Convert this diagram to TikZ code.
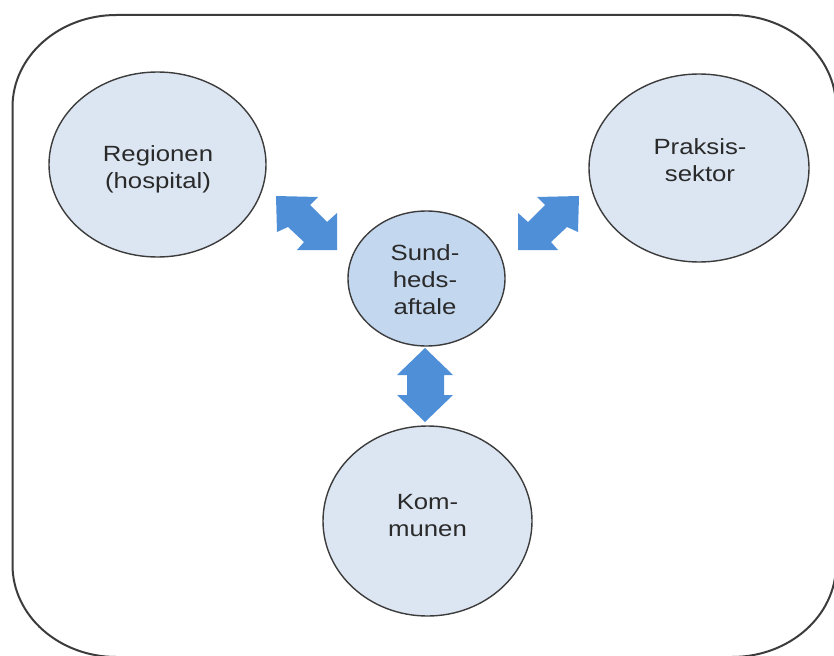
\documentclass[tikz,border=0pt]{standalone}
\usepackage{fontspec}
\setmainfont[FakeStretch=1.17]{Liberation Sans}
\usetikzlibrary{shapes.geometric}
\definecolor{outl}{HTML}{3C3C3C}
\definecolor{fillA}{HTML}{DCE6F2}
\definecolor{fillB}{HTML}{C3D7EF}
\definecolor{arr}{HTML}{4F8FD8}
\definecolor{txt}{HTML}{2A2A2A}
\begin{document}
\begin{tikzpicture}[x=1pt,y=-1pt,
  blob/.style={draw=outl, line width=1.4pt, fill=fillA, ellipse, inner sep=0pt},
  lbl/.style={text=txt, align=center, inner sep=0pt, font=\fontsize{22}{27}\selectfont},
  blockarrow/.style={fill=arr},
  frame/.style={draw=outl, line width=2pt}]
\useasboundingbox (0,0) rectangle (834,655);
\clip (0,0) rectangle (834,655);
\fill[white] (0,0) rectangle (834,655);
% outer rounded frame
\draw[frame] (12.5,107) -- (12.5,565)
  arc[start angle=180, end angle=90, x radius=104, y radius=92]
  -- (732,657)
  arc[start angle=90, end angle=0, x radius=104, y radius=92]
  -- (836,107)
  arc[start angle=0, end angle=-90, x radius=104, y radius=92]
  -- (116.5,15)
  arc[start angle=-90, end angle=-180, x radius=104, y radius=92]
  -- cycle;
% ellipses
\node[blob, minimum width=217pt, minimum height=185pt] (reg) at (157.5,164.5) {};
\node[blob, minimum width=220pt, minimum height=188pt] (prak) at (699,168) {};
\node[blob, minimum width=209pt, minimum height=190pt] (komm) at (427.5,521) {};
\node[blob, fill=fillB, minimum width=157pt, minimum height=135pt] (sund) at (426.5,278.5) {};
% labels
\node[lbl] (regT) at (158,169.5) {Regionen\\(hospital)};
\node[lbl] (prakT) at (700,160) {Praksis-\\sektor};
\node[lbl] (sundT) at (425,279.5) {Sund-\\heds-\\aftale};
\node[lbl] (kommT) at (427.5,516) {Kom-\\munen};
% block arrows
\fill[blockarrow] (276,196) -- (318,197) -- (310,205) -- (327,222) -- (337,213)
  -- (337,250) -- (297,250) -- (304,242) -- (288,227) -- (277,232) -- cycle;
\fill[blockarrow] (579,196) -- (537,197) -- (545,205) -- (528,222) -- (518,213)
  -- (518,250) -- (558,250) -- (551,242) -- (567,227) -- (578,232) -- cycle;
\fill[blockarrow] (425,348) -- (453,375) -- (444,375) -- (444,395) -- (453,395)
  -- (425,422) -- (397,395) -- (407,395) -- (407,375) -- (397,375) -- cycle;
\end{tikzpicture}
\end{document}
